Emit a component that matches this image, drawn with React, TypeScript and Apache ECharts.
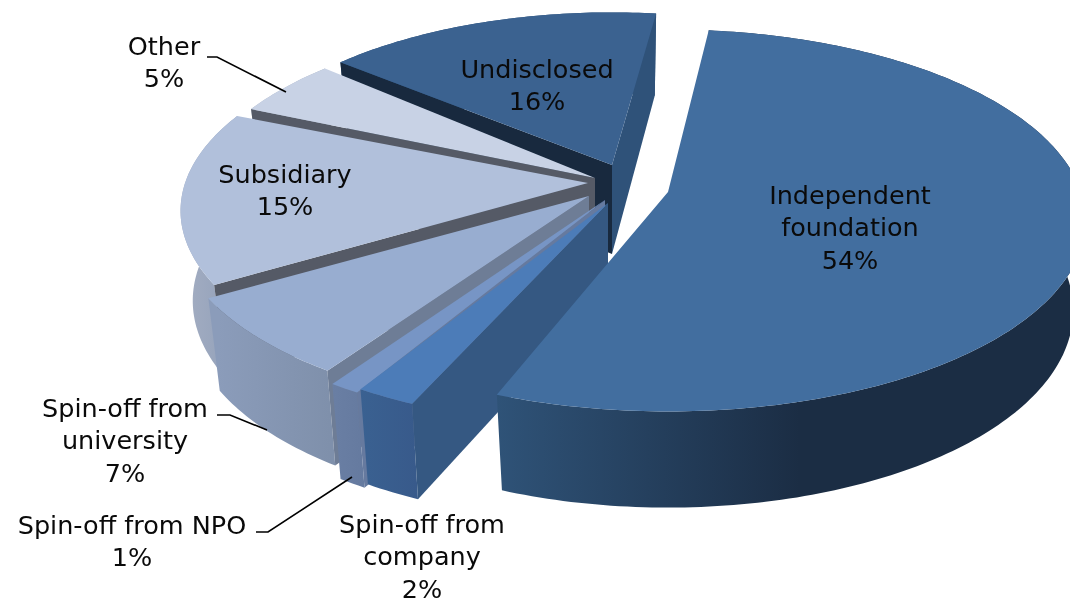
import React, { useEffect, useRef } from "react";
import * as echarts from "echarts";

// Data
const names = ["Independent\nfoundation", "Spin-off from\ncompany", "Spin-off from NPO", "Spin-off from\nuniversity", "Subsidiary", "Other", "Undisclosed"];
const shares = [54, 2, 1, 7, 15, 5, 16];

// Styling / geometry of the exploded perspective pie
const startDeg = 6.5;
const angleNudge = [0, 2.9, 2.1, 2.4, 2, 3, 1];
const radiusScale = [1.015, 1.03, 1.055, 1.005, 0.99, 0.98, 0.953];
const apexes = [[668, 192], [608, 203], [605, 200], [589, 196], [588, 183], [595, 178], [612, 165]];
const topColors = ["#426e9f", "#4c7cb8", "#7795c5", "#98add0", "#b1c0db", "#c8d2e5", "#3b6290"];
const startFace = ["#2f5378", "#355882", "#667a9f", "#6e7d96", "#555a66", "#555a66", "#18293e"];
const endFace = ["#2f5378", "#355882", "#6a7ea5", "#7d8eaa", "#8f9fbb", "#8f9fbb", "#2f5279"];
const wallStops = [
  [495, "#2f5378", 800, "#1b2d44"], [360, "#3a6191", 425, "#38598a"], [330, "#6a7fa4", 365, "#657a9f"],
  [218, "#8b9cba", 330, "#7f90ab"], [183, "#a4aec2", 220, "#97a4bc"], [250, "#b0bacb", 330, "#a0aabb"], [340, "#2f5279", 660, "#2f5279"],
];
const drawOrder = [6, 5, 4, 3, 2, 1, 0];
const labelCentres = [[850, 227], [422, 556], [132, 541], [125, 440], [285, 190], [164, 62], [537, 85]];
const leaders = [
  [[207, 57], [217, 57], [286, 92]],
  [[217, 415], [230, 415], [267, 430]],
  [[256, 532], [268, 532], [352, 477]],
];

const R = 407, RF = 184, K = 0.149;
const rad = Math.PI / 180;

function project(deg: number, a: number[], r: number) {
  const X = Math.sin(deg * rad), Y = -Math.cos(deg * rad);
  const s = r / (1 - K * Y);
  return { x: a[0] + X * R * s, y: a[1] + Y * RF * s, Y };
}
const lower = (p: { x: number; y: number; Y: number }, a: number[]) => [
  a[0] + (p.x - a[0]) * 0.97,
  p.y + 89 * (1 + 0.08 * p.Y),
];

function angles() {
  const total = shares.reduce((s, v) => s + v, 0);
  let c = startDeg;
  return shares.map((v, i) => {
    const a0 = c + angleNudge[i];
    const a1 = c + (v / total) * 360 + angleNudge[i];
    c += (v / total) * 360;
    return [a0, a1];
  });
}

function renderSlice(params: any) {
  const i = drawOrder[params.dataIndex];
  const [a0, a1] = angles()[i];
  const a = apexes[i];
  const arc: { x: number; y: number; Y: number }[] = [];
  const n = Math.max(2, Math.ceil(a1 - a0));
  for (let t = 0; t <= n; t++) arc.push(project(a0 + ((a1 - a0) * t) / n, a, radiusScale[i]));
  const aLow = [a[0], a[1] + 89];
  const children: any[] = [];
  const face = (pts: number[][], fill: any) => children.push({ type: "polygon", shape: { points: pts }, style: { fill } });
  const w = wallStops[i] as any[];
  const wallFill = new echarts.graphic.LinearGradient(w[0], 0, w[2], 0, [{ offset: 0, color: w[1] }, { offset: 1, color: w[3] }], true);
  face([...arc.map((p) => [p.x, p.y]), ...arc.slice().reverse().map((p) => lower(p, a))], wallFill);
  const s = arc[0], e = arc[arc.length - 1];
  if (Math.sin(a0 * rad) < 0) face([a, [s.x, s.y], lower(s, a), aLow], startFace[i]);
  if (Math.sin(a1 * rad) > 0) face([a, [e.x, e.y], lower(e, a), aLow], endFace[i]);
  face([a, ...arc.map((p) => [p.x, p.y])], topColors[i]);
  return { type: "group", children };
}

export default function App() {
  const ref = useRef<HTMLDivElement>(null);
  useEffect(() => {
    const chart = echarts.init(ref.current!, undefined, { renderer: "svg" });
    const font = { fontFamily: "DejaVu Sans", fontSize: 25.5, lineHeight: 32.5, fill: "#0a0a0a", align: "center", verticalAlign: "middle" };
    chart.setOption({
      animation: false,
      series: [{
        type: "custom",
        coordinateSystem: "none",
        silent: true,
        data: drawOrder.map((i) => shares[i]),
        renderItem: renderSlice,
      }],
      graphic: [
        ...leaders.map((pts) => ({ type: "polyline", z: 10, shape: { points: pts }, style: { stroke: "#000", lineWidth: 1.6, fill: "none" } })),
        ...names.map((name, i) => ({
          type: "text", z: 11, x: labelCentres[i][0], y: labelCentres[i][1],
          style: { ...font, text: `${name}\n${shares[i]}%` },
        })),
      ],
    });
    return () => chart.dispose();
  }, []);
  return <div ref={ref} style={{ position: "fixed", left: 0, top: 0, width: 1070, height: 603 }} />;
}
